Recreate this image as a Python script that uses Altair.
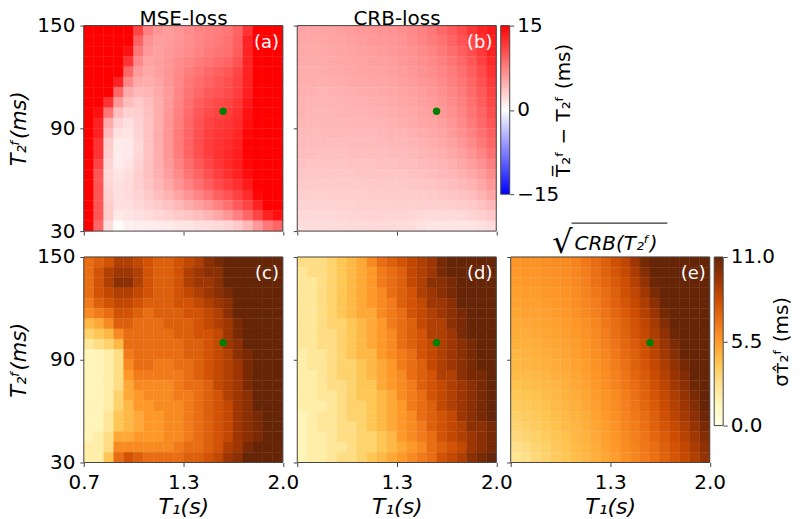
import altair as alt
import pandas as pd

PANEL_A = [
[15,15,15,15,15,11,7.5,6.2,5.8,6.3,6.8,7.2,7.4,7.7,8.2,9.2,12,15,15,15],
[15,15,15,15,15,9.2,6.4,5.7,5.9,6.2,6.6,7.1,7.5,7.8,8.3,9.4,13,15,15,15],
[15,15,15,15,14,8,6,5.6,6,6.4,6.9,7.3,7.8,8.1,8.5,9.6,13,15,15,15],
[15,15,15,15,12,7,5.4,5.7,6.1,6.7,7.2,7.7,8.2,8.7,9.2,10.2,13,15,15,15],
[15,15,15,15,9,5.9,5.1,5.6,6.2,6.9,7.6,8.2,8.8,9.3,9.9,10.9,13,15,15,15],
[15,15,15,13,7,5,4.8,5.3,6.1,7,7.9,8.6,9.2,9.8,10.3,11.2,13,15,15,15],
[15,15,15,9,5,4.1,4.4,5.1,6,7.1,8.1,9,9.7,10.2,10.6,11.5,13.2,15,15,15],
[15,15,12,6,3.8,3.2,3.9,4.9,6,7.2,8.4,9.4,10.2,10.7,11,11.9,13.6,15,15,15],
[15,14,8,3.8,2.7,2.8,3.7,4.8,6.1,7.4,8.7,9.8,10.6,11.1,11.4,12.2,14,15,15,15],
[15,13,5,2.6,1.9,2.6,3.6,4.8,6.2,7.6,9,10.1,11,11.5,11.8,12.5,14.2,15,15,15],
[15,13,4,1.8,1.6,2.5,3.6,4.9,6.3,7.8,9.1,10.3,11.3,11.8,12.1,12.8,14.5,15,15,15],
[15,12,3,1.2,1.3,2.3,3.6,4.9,6.3,7.8,9.2,10.4,11.4,12,12.4,13.1,14.8,15,15,15],
[15,12,2.8,1.1,1.3,2.3,3.6,4.8,6.2,7.7,9.1,10.3,11.3,12.1,12.6,13.3,14.9,15,15,15],
[15,11,2.6,1.2,1.7,2.6,3.7,4.8,6,7.3,8.6,9.8,10.9,11.8,12.6,13.3,14.6,15,15,15],
[15,10,2.3,1.6,2,2.8,3.7,4.6,5.7,6.9,8.1,9.2,10.3,11.3,12.2,13,14.2,15,15,15],
[15,10,2.4,1.8,2.1,2.8,3.5,4.3,5.2,6.3,7.4,8.4,9.5,10.6,11.4,12.2,13.4,15,15,15],
[15,10,2.7,1.9,2.1,2.6,3.2,3.8,4.5,5.4,6.3,7.2,8.2,9.3,10.2,11.2,12.4,14.6,15,15],
[15,10,3,1.9,1.9,2.3,2.7,3.1,3.6,4.2,4.9,5.6,6.4,7.4,8.4,9.7,11,13,15,15],
[15,10,3,1.3,1.6,1.9,2.1,2.4,2.7,3.1,3.4,3.8,4.4,5.2,6.2,7.4,9,11,13,14],
[15,9,2,0.2,0.8,1,1.1,1.2,1.3,1.5,1.6,1.8,2,2.2,2.4,3.1,4.2,6,8,9],
]
PANEL_B = [
[5.3,5.2,5.4,5.5,5.6,5.8,6.0,6.1,6.3,6.4,6.6,7.0,7.4,8.0,8.8,9.6,10.6,11.8,12.8,13.5],
[5.2,5.1,5.2,5.4,5.5,5.6,5.8,6.0,6.1,6.2,6.4,6.8,7.2,7.7,8.3,9.1,10.0,11.0,12.2,13.2],
[5.1,5.1,5.1,5.2,5.3,5.5,5.6,5.8,5.9,6.0,6.2,6.5,6.9,7.3,7.9,8.6,9.4,10.4,11.7,13.0],
[5.0,5.0,5.0,5.1,5.2,5.3,5.4,5.6,5.7,5.8,6.0,6.3,6.6,7.0,7.5,8.1,8.9,9.9,11.2,12.6],
[4.9,4.9,4.9,5.0,5.1,5.2,5.3,5.4,5.5,5.6,5.8,6.1,6.4,6.7,7.2,7.7,8.4,9.4,10.6,12.1],
[4.8,4.8,4.7,4.8,4.9,5.0,5.1,5.2,5.3,5.4,5.6,5.8,6.1,6.4,6.9,7.4,8.1,9.0,10.2,11.6],
[4.7,4.6,4.5,4.6,4.7,4.8,4.9,5.0,5.1,5.2,5.4,5.6,5.9,6.2,6.6,7.1,7.8,8.7,9.8,11.2],
[4.5,4.4,4.4,4.4,4.5,4.6,4.7,4.8,4.9,5.0,5.2,5.4,5.6,5.9,6.3,6.8,7.5,8.4,9.5,10.8],
[4.4,4.3,4.3,4.3,4.4,4.4,4.5,4.6,4.7,4.8,5.0,5.2,5.4,5.7,6.0,6.5,7.2,8.1,9.1,10.4],
[4.3,4.2,4.2,4.2,4.2,4.3,4.3,4.4,4.5,4.6,4.8,5.0,5.2,5.4,5.7,6.2,6.9,7.8,8.8,10.0],
[4.1,4.1,4.1,4.1,4.1,4.1,4.2,4.2,4.3,4.4,4.5,4.7,4.9,5.1,5.4,5.9,6.5,7.4,8.4,9.5],
[4.0,4.0,4.0,3.9,3.9,4.0,4.0,4.0,4.1,4.2,4.3,4.4,4.6,4.8,5.1,5.5,6.1,6.9,7.9,9.0],
[3.8,3.8,3.7,3.7,3.7,3.8,3.8,3.8,3.9,4.0,4.0,4.1,4.3,4.5,4.7,5.1,5.6,6.3,7.2,8.3],
[3.6,3.5,3.5,3.5,3.5,3.6,3.6,3.6,3.7,3.7,3.8,3.9,4.0,4.2,4.4,4.7,5.1,5.7,6.5,7.5],
[3.3,3.3,3.3,3.3,3.3,3.3,3.4,3.4,3.4,3.5,3.5,3.6,3.7,3.9,4.1,4.3,4.6,5.1,5.8,6.8],
[3.1,3.1,3.1,3.1,3.1,3.1,3.1,3.2,3.2,3.2,3.2,3.3,3.4,3.5,3.7,3.9,4.1,4.5,5.1,6.0],
[2.9,2.8,2.8,2.8,2.9,2.9,2.9,3.0,3.0,3.0,3.0,3.0,3.1,3.2,3.3,3.4,3.6,3.9,4.4,5.2],
[2.6,2.6,2.6,2.6,2.7,2.7,2.8,2.8,2.8,2.8,2.8,2.8,2.8,2.8,2.8,2.9,3.0,3.2,3.6,4.2],
[2.3,2.3,2.3,2.3,2.4,2.5,2.6,2.6,2.6,2.6,2.5,2.4,2.3,2.2,2.2,2.2,2.3,2.5,2.8,3.2],
[2.0,2.0,2.0,2.0,2.1,2.2,2.2,2.3,2.2,2.2,2.1,2.0,1.8,1.6,1.5,1.5,1.5,1.6,1.8,2.2],
]
PANEL_C = [
[7,7.5,8,9,9,8.5,8,7.5,7.5,8,8.5,9,10,10.5,11,11,11,11,11,11],
[7,8,9,9.5,9.5,9,8,7.5,7.5,8,9,9.5,10,10,11,11,11,11,11,11],
[7,8,9,10,10,9,8,7.5,7.5,8,9,9.5,9.5,10,11,11,11,11,11,11],
[7,8,8.5,9,9,8.5,8,7.5,7.5,8,8.5,9,9.5,10,10.5,11,11,11,11,11],
[6.5,7.5,8,8.5,8.5,8,7.5,7.5,7.5,8,8,8.5,9,9.5,10,11,11,11,11,11],
[6,6.5,7,8,8,7.5,7,7.5,7.5,7.5,8,8,8.5,9,10,11,11,11,11,11],
[4.5,5,6,7.5,7.5,7,7,7,7.5,7.5,7.5,8,8.5,9,9.5,10.5,11,11,11,11],
[3.5,4,4.5,6,7,7,7,7,7,7.5,7.5,8,8,8.5,9.5,10.5,11,11,11,11],
[2.5,3,3.5,4.5,7,7,7,7,7,7,7.5,7.5,8,8.5,9.5,10,11,11,11,11],
[1.5,1.5,2,3,6.5,7,7,7,7,7,7.5,7.5,8,8.5,9,10,10.5,11,11,11],
[1.5,1.5,2,3,6,7,7,6.5,6.5,7,7,7.5,8,8.5,9,9.5,10.5,11,11,11],
[1.5,1.5,2,3,5.5,6.5,6.5,6.5,6.5,6.5,7,7.5,8,8.5,9,9.5,10.5,11,11,11],
[1.5,1.5,2,3,5,6,6,6,6,6.5,7,7,7.5,8.5,9,9.5,10.5,11,11,11],
[1.5,1.5,2,3.5,5,5.5,6,6,6,6.5,6.5,7,7.5,8,9,9.5,10,11,11,11],
[1.5,1.5,2,3.5,4.5,5.5,5.5,6,6,6,6.5,7,7.5,8,8.5,9.5,10,11,11,11],
[1.5,1.5,2.5,4,4.5,5,5.5,5.5,6,6,6.5,7,7.5,8,8.5,9.5,10,10.5,11,11],
[1.5,1.5,2.5,4,4.5,5,5.5,5.5,6,6,6.5,7,7.5,8,8.5,9.5,10,10.5,11,11],
[1.5,2,3,5,5,5.5,5.5,5.5,6,6,6.5,7,7.5,8,8.5,9.5,10,10.5,11,11],
[2,2,3,6,6,6,6,6,6,6.5,7,7,7.5,8,9,9.5,10.5,11,11,11],
[2,2,4,7,8,7.5,7,7,7,7,7.5,7.5,8,8.5,9.5,10,11,11,11,11],
]
PANEL_D = [
[3,3,3,3.5,4,4.5,5,6,7,7.5,8,8.5,9,9.5,10.5,11,11,11,11,11],
[2.5,3,3,3.5,4,4.5,5,5.5,6.5,7,7.5,8.5,9,9.5,10.5,11,11,11,11,11],
[2.5,2.5,3,3.5,4,4.5,5,5.5,6.5,7,7.5,8.5,9,10,10,10.5,11,11,11,11],
[2.5,2.5,3,3.5,4,4.5,5,5.5,6,7,7.5,8,9,9.5,10,10.5,11,11,11,11],
[2.5,2.5,3,3.5,4,4.5,5,5.5,6,6.5,7.5,8,8.5,9.5,9.5,10,11,11,11,11],
[2.5,2.5,3,3.5,4,4.5,5,5,6,6.5,7,8,8.5,9,9.5,10,10.5,11,11,11],
[2.5,2.5,3,3.5,3.5,4,4.5,5,5.5,6.5,7,7.5,8.5,9,9,10,10.5,11,11,11],
[2.5,2.5,3,3,3.5,4,4.5,5,5.5,6,7,7.5,8,9,9,9.5,10.5,11,11,11],
[2.5,2.5,3,3,3.5,4,4.5,5,5.5,6,7,7.5,8,8.5,9,9.5,10,10.5,11,11],
[2,2.5,2.5,3,3.5,4,4.5,4.5,5.5,6,6.5,7,8,8.5,9,9.5,10,10.5,11,11],
[2,2.5,2.5,3,3.5,3.5,4,4.5,5,5.5,6.5,7,7.5,8.5,9,9.5,10,10.5,11,11],
[2,2,2.5,3,3.5,3.5,4,4.5,5,5.5,6,7,7.5,8,9,9,10,10.5,10.5,11],
[2,2,2.5,3,3,3.5,4,4,5,5.5,6,6.5,7.5,8,8.5,9,9.5,10,10.5,11],
[2,2,2.5,2.5,3,3.5,4,4,4.5,5,6,6.5,7,8,8.5,9,9.5,10,10.5,11],
[2,2,2,2.5,3,3.5,3.5,4,4.5,5,5.5,6.5,7,7.5,8.5,9,9.5,10,10.5,11],
[1.5,2,2.5,2.5,3,3.5,3.5,4,4.5,5,5.5,6,7,7.5,8,8.5,9.5,10,10.5,11],
[1.5,2,2.5,2.5,3,3,3.5,4,4.5,5,5.5,6,6.5,7.5,8,8.5,9,10,10,10.5],
[1.5,2,2,2.5,3,3,3.5,3.5,4,4.5,5.5,6,6.5,7,8,8.5,9,9.5,10,10.5],
[1.5,2,2,2.5,2.5,3,3.5,3.5,4,4.5,5,5.5,6,7,7.5,8,8.5,9.5,10,10.5],
[1.5,2,2,2.5,3,3,3.5,4,4.5,5,5.5,6,6.5,7,8,8.5,9,10,10.5,11],
]
PANEL_E = [
[5.6,5.7,5.7,5.8,5.9,6.0,6.2,6.6,7.0,7.5,8.1,8.6,9.5,10.6,11,11,11,11,11,11],
[5.5,5.6,5.6,5.7,5.8,5.9,6.1,6.4,6.9,7.4,7.9,8.4,9.2,10.2,11,11,11,11,11,11],
[5.4,5.5,5.5,5.6,5.7,5.8,6.0,6.3,6.8,7.2,7.7,8.2,8.9,9.8,10.8,11,11,11,11,11],
[5.3,5.4,5.4,5.5,5.6,5.7,5.9,6.2,6.6,7.0,7.5,8.1,8.6,9.4,10.4,11,11,11,11,11],
[5.2,5.3,5.3,5.4,5.5,5.6,5.8,6.1,6.4,6.9,7.4,7.9,8.4,9.1,10.0,10.9,11,11,11,11],
[5.1,5.2,5.2,5.3,5.4,5.5,5.7,6.0,6.3,6.7,7.2,7.7,8.2,8.9,9.6,10.6,11,11,11,11],
[5.0,5.0,5.1,5.2,5.3,5.4,5.6,5.8,6.1,6.6,7.0,7.5,8.0,8.6,9.3,10.2,11,11,11,11],
[4.9,4.9,5.0,5.1,5.2,5.3,5.5,5.7,6.0,6.4,6.9,7.4,7.9,8.4,9.1,9.9,10.8,11,11,11],
[4.8,4.8,4.9,5.0,5.1,5.2,5.4,5.6,5.9,6.3,6.7,7.2,7.7,8.2,8.9,9.6,10.4,11,11,11],
[4.6,4.7,4.8,4.9,5.0,5.1,5.3,5.5,5.8,6.1,6.6,7.1,7.5,8.1,8.7,9.4,10.1,11,11,11],
[4.5,4.6,4.7,4.8,4.9,5.0,5.2,5.4,5.7,6.0,6.4,6.9,7.4,7.9,8.5,9.1,9.8,10.6,11,11],
[4.4,4.4,4.5,4.6,4.8,4.9,5.1,5.3,5.6,5.9,6.3,6.7,7.2,7.7,8.3,8.9,9.6,10.3,11,11],
[4.2,4.3,4.4,4.5,4.6,4.8,5.0,5.2,5.5,5.8,6.2,6.6,7.0,7.5,8.1,8.7,9.4,10.0,10.8,11],
[4.0,4.1,4.2,4.4,4.5,4.7,4.9,5.1,5.4,5.7,6.0,6.4,6.9,7.4,7.9,8.5,9.1,9.7,10.5,11],
[3.8,3.9,4.0,4.2,4.4,4.6,4.8,5.0,5.3,5.6,5.9,6.3,6.7,7.2,7.7,8.3,8.9,9.5,10.2,11],
[3.6,3.8,3.9,4.1,4.3,4.5,4.7,4.9,5.2,5.5,5.8,6.2,6.6,7.0,7.5,8.1,8.7,9.3,10.0,10.8],
[3.4,3.6,3.8,4.0,4.2,4.4,4.6,4.8,5.1,5.4,5.7,6.1,6.4,6.9,7.4,7.9,8.4,9.0,9.7,10.5],
[3.2,3.4,3.6,3.8,4.0,4.2,4.5,4.7,5.0,5.3,5.6,6.0,6.3,6.7,7.2,7.7,8.2,8.8,9.4,10.2],
[2.9,3.1,3.4,3.6,3.9,4.1,4.4,4.6,4.9,5.2,5.5,5.9,6.2,6.6,7.0,7.5,8.0,8.6,9.2,9.9],
[2.7,2.9,3.2,3.5,3.8,4.0,4.3,4.5,4.8,5.1,5.4,5.8,6.1,6.5,6.9,7.4,7.9,8.4,9.0,9.7],
]

X_RANGE = [0.7, 2.0]
Y_RANGE = [30, 150]
X_TICKS = [0.7, 1.35, 2.0]
Y_TICKS = [30, 90, 150]
MARKER_T1 = [1.61]
MARKER_T2 = [100]
BWR_COLORS = ["#0000ff", "#ffffff", "#ff0000"]
YLORBR_COLORS = ["#ffffe5", "#fff7bc", "#fee391", "#fec44f", "#fe9929",
                 "#ec7014", "#cc4c02", "#993404", "#662506"]
FRAME = "#444444"
FONT = "DejaVu Sans"
PW, PH = 199.5, 206
ONE = pd.DataFrame({"a": [0]})


def cells(grid):
    rows = []
    nr, nc = len(grid), len(grid[0])
    dx = (X_RANGE[1] - X_RANGE[0]) / nc
    dy = (Y_RANGE[1] - Y_RANGE[0]) / nr
    for r, row in enumerate(grid):
        for c, v in enumerate(row):
            rows.append({
                "x0": X_RANGE[0] + c * dx, "x1": X_RANGE[0] + (c + 1) * dx,
                "y0": Y_RANGE[1] - (r + 1) * dy, "y1": Y_RANGE[1] - r * dy,
                "v": v,
            })
    return pd.DataFrame(rows)


red_scale = alt.Scale(domain=[-15, 0, 15], range=BWR_COLORS, clamp=True, interpolate="rgb")
brown_scale = alt.Scale(domain=[11 * i / 8 for i in range(9)], range=YLORBR_COLORS, clamp=True, interpolate="rgb")


def head(text, px, py, size=20, align="center", style="normal"):
    return alt.Chart(ONE).mark_text(text=text, font=FONT, fontSize=size, align=align,
                                    baseline="alphabetic", fontStyle=style, color="black").encode(
        x=alt.value(px), y=alt.value(py))


def panel(grid, scale, tag, extra=(), xlab=False, ylab=False, first_x=True):
    expr = ("datum.value == 1.35 ? '1.3' : format(datum.value, '.1f')" if first_x else
            "datum.value == 1.35 ? '1.3' : datum.value == 2 ? '2.0' : ''")
    xaxis = alt.Axis(values=X_TICKS, grid=False, domain=False, tickSize=4, tickColor=FRAME,
                     labels=xlab, labelFontSize=20, labelFlush=False, labelOverlap=False,
                     labelExpr=expr,
                     labelPadding=6, title="T₁(s)" if xlab else None, titleFontSize=22,
                     titleFontStyle="italic", titleFontWeight="normal", titlePadding=4)
    yaxis = alt.Axis(values=Y_TICKS, grid=False, domain=False, tickSize=4, tickColor=FRAME,
                     labels=ylab, labelFontSize=20, labelFlush=False, labelOverlap=False,
                     labelPadding=5, title="T₂ᶠ(ms)" if ylab else None, titleFontSize=21,
                     titleFontStyle="italic", titleFontWeight="normal", titlePadding=7)
    xs = alt.Scale(domain=X_RANGE, nice=False)
    ys = alt.Scale(domain=Y_RANGE, nice=False)
    heat = alt.Chart(cells(grid)).mark_rect(strokeWidth=0.4).encode(
        x=alt.X("x0:Q", scale=xs, axis=xaxis),
        x2="x1:Q",
        y=alt.Y("y0:Q", scale=ys, axis=yaxis),
        y2="y1:Q",
        color=alt.Color("v:Q", scale=scale, legend=None),
        stroke=alt.Stroke("v:Q", scale=scale, legend=None),
    )
    dot = alt.Chart(pd.DataFrame({"x": MARKER_T1, "y": MARKER_T2})).mark_point(
        filled=True, size=55, color="#008000", opacity=1).encode(x="x:Q", y="y:Q")
    label = alt.Chart(pd.DataFrame({"x": [1.975], "y": [140], "t": [tag]})).mark_text(
        color="white", fontSize=18, align="right", baseline="middle", font=FONT).encode(
        x="x:Q", y="y:Q", text="t:N")
    frame = alt.Chart(ONE).mark_rect(
        fill="transparent", stroke=FRAME, strokeWidth=1).encode(
        x=alt.datum(X_RANGE[0]), x2=alt.datum(X_RANGE[1]),
        y=alt.datum(Y_RANGE[0]), y2=alt.datum(Y_RANGE[1]))
    return alt.layer(heat, frame, dot, label, *extra).properties(width=PW, height=PH)


def colorbar(colors, dom, ticks, title, tformat, tpad):
    n = len(colors) - 1
    grad = alt.LinearGradient(
        gradient="linear", x1=0, y1=1, x2=0, y2=0,
        stops=[alt.GradientStop(color=c, offset=i / n) for i, c in enumerate(colors)])
    return alt.Chart(ONE).mark_rect(
        fill=grad, stroke=FRAME, strokeWidth=1).encode(
        y=alt.Y(datum=dom[0], type="quantitative",
                scale=alt.Scale(domain=dom, nice=False),
                axis=alt.Axis(orient="right", values=ticks, grid=False, domain=False, tickSize=4,
                              tickColor=FRAME, labelFontSize=20, labelFlush=False,
                              labelOverlap=False, labelPadding=3, format=tformat,
                              title=title, titleFontSize=20, titleFontWeight="normal",
                              titleAngle=270, titlePadding=tpad)),
        y2=alt.Y2(datum=dom[1]),
    ).properties(width=9, height=169)


def gap():
    return alt.Chart(ONE).mark_point(opacity=0).encode(
        x=alt.value(0), y=alt.value(0)).properties(width=6, height=10)


root_bar = alt.Chart(ONE).mark_rule(color="black", strokeWidth=1).encode(
    x=alt.value(61), x2=alt.value(157), y=alt.value(-34))

a = panel(PANEL_A, red_scale, "(a)", extra=[head("MSE-loss", 100, -1)], ylab=True)
b = panel(PANEL_B, red_scale, "(b)", extra=[head("CRB-loss", 100, -1)])
c = panel(PANEL_C, brown_scale, "(c)", xlab=True, ylab=True)
d = panel(PANEL_D, brown_scale, "(d)", xlab=True, first_x=False)
e = panel(PANEL_E, brown_scale, "(e)", xlab=True, first_x=False,
          extra=[head("√", 62, -4, size=32, align="right"),
                 head("CRB(T₂ᶠ)", 64, -7, size=20, align="left", style="italic"),
                 root_bar])
cb1 = colorbar(BWR_COLORS, [-15, 15], [-15, 0, 15], "T̅₂ᶠ − T₂ᶠ (ms)", "d", 15)
cb2 = colorbar(YLORBR_COLORS, [0, 11], [0, 5.5, 11], "σᴛ̂₂ᶠ (ms)", ".1f", 17)

top = alt.hconcat(a, gap(), b, cb1, spacing=4, bounds="flush").resolve_scale(color="independent", stroke="independent")
bottom = alt.hconcat(c, gap(), d, gap(), e, cb2, spacing=4, bounds="flush").resolve_scale(color="independent", stroke="independent")
chart = alt.vconcat(top, bottom, spacing=-19).resolve_scale(color="independent", stroke="independent").properties(
    padding={"left": 0, "top": 0, "right": 0, "bottom": 0}
).configure(font=FONT).configure_view(stroke=None)

chart.save("out.html", embed_options={"renderer": "svg", "actions": False})
